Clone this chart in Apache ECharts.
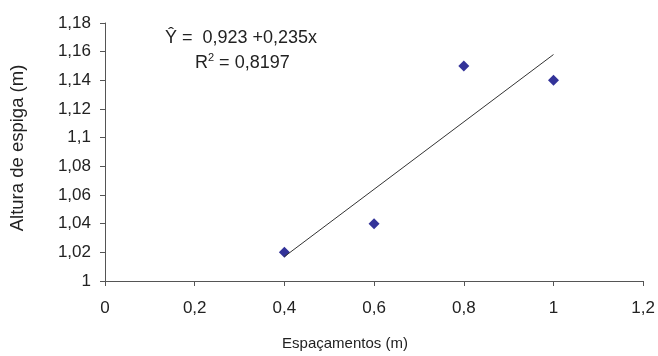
<!DOCTYPE html>
<html><head><meta charset="utf-8">
<script src="https://cdn.jsdelivr.net/npm/echarts@6/dist/echarts.min.js"></script>
<style>html,body{margin:0;padding:0;background:#fff}#c{width:658px;height:356px}</style>
</head><body><div id="c"></div>
<script>
var xValues = [0.4, 0.6, 0.8, 1.0];
var yValues = [1.02, 1.04, 1.15, 1.14];
var trendX = [0.4, 1.0];
var trendY = [1.017, 1.158];
var xTicks = [0, 0.2, 0.4, 0.6, 0.8, 1, 1.2];
var yTicks = [1, 1.02, 1.04, 1.06, 1.08, 1.1, 1.12, 1.14, 1.16, 1.18];
var xTitle = 'Espaçamentos (m)';
var yTitle = 'Altura de espiga (m)';
var eqLine = 'Ŷ =  0,923 +0,235x';
var r2Value = '0,8197';

function fmt(v){ return String(Math.round(v*100)/100).replace('.', ','); }

var chart = echarts.init(document.getElementById('c'));
var font = 'Liberation Sans, Arial, sans-serif';
var axisLine = {show:true, lineStyle:{color:'#555', width:1}};
chart.setOption({
  animation:false,
  grid:{left:105, right:14, top:23, bottom:75},
  xAxis:{type:'value', min:xTicks[0], max:xTicks[xTicks.length-1], interval:0.2,
    axisLine:axisLine, axisTick:{show:true, length:5, lineStyle:{color:'#555'}},
    splitLine:{show:false},
    axisLabel:{fontFamily:font, fontSize:17, color:'#222', margin:19, formatter:fmt}},
  yAxis:{type:'value', min:yTicks[0], max:yTicks[yTicks.length-1], interval:0.02,
    axisLine:axisLine, axisTick:{show:true, length:5, lineStyle:{color:'#555'}},
    splitLine:{show:false},
    axisLabel:{fontFamily:font, fontSize:17, color:'#222', margin:14, formatter:fmt}},
  series:[
    {type:'line', data:trendX.map(function(x,i){return [x,trendY[i]];}), showSymbol:false,
      symbol:'none', lineStyle:{color:'#333', width:1}, silent:true},
    {type:'scatter', data:xValues.map(function(x,i){return [x,yValues[i]];}),
      symbol:'diamond', symbolSize:[11,11], itemStyle:{color:'#333399', opacity:1}}
  ],
  graphic:[
    {type:'text', x:345, y:344, style:{text:xTitle, font:'15px '+font, fill:'#222', align:'center', verticalAlign:'middle'}},
    {type:'text', x:18, y:148, rotation:Math.PI/2, style:{text:yTitle, font:'18.5px '+font, fill:'#222', align:'center', verticalAlign:'middle'}},
    {type:'text', x:165, y:38, style:{text:eqLine, font:'18px '+font, fill:'#222', verticalAlign:'middle'}},
    {type:'text', x:195, y:63, style:{text:'{a|R}{s|2}{a| = ' + r2Value + '}', font:'18px '+font, fill:'#222', verticalAlign:'middle',
      rich:{a:{fontFamily:font, fontSize:18, fill:'#222'}, s:{fontFamily:font, fontSize:11, fill:'#222', padding:[0,0,10,0]}}}}
  ]
});
</script></body></html>
